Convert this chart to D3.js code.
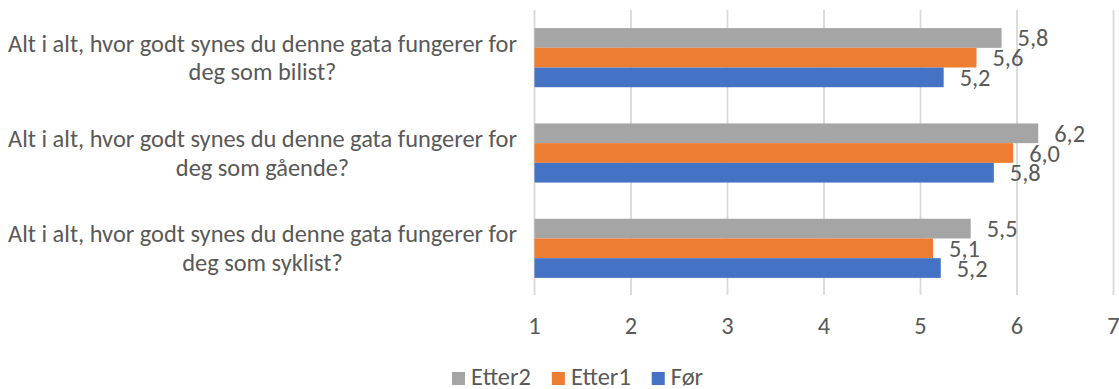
<!DOCTYPE html>
<html>
<head>
<meta charset="utf-8">
<script src="https://cdn.jsdelivr.net/npm/d3@7"></script>
<style>
  html, body { margin: 0; padding: 0; background: #ffffff; }
  svg { display: block; }
  text { font-family: Carlito, Calibri, Lato, "Liberation Sans", sans-serif; fill: #595959; }
</style>
</head>
<body>
<svg id="chart" width="1119" height="389"></svg>
<script>
// Survey questions (one per bar group)
const categories = [
  ["Alt i alt, hvor godt synes du denne gata fungerer for", "deg som bilist?"],
  ["Alt i alt, hvor godt synes du denne gata fungerer for", "deg som gående?"],
  ["Alt i alt, hvor godt synes du denne gata fungerer for", "deg som syklist?"]
];
const categoryKeys = ["bilist", "gående", "syklist"];

// Series, drawn top to bottom inside each group
const seriesNames = ["Etter2", "Etter1", "Før"];
const etter2 = [5.84, 6.22, 5.52];
const etter1 = [5.58, 5.96, 5.13];
const foer   = [5.24, 5.76, 5.21];
const seriesValues = [etter2, etter1, foer];
const seriesColors = ["#A5A5A5", "#ED7D31", "#4472C4"];

// Axis
const axisMin = 1, axisMax = 7;
const tickValues = [1, 2, 3, 4, 5, 6, 7];

const svg = d3.select("#chart");

// Fit the font size so the long question line spans its intended width
const probe = svg.append("text").attr("font-size", 20).text(categories[0][0]);
const probeW = probe.node().getComputedTextLength();
probe.remove();
const fontSize = 20 * 509 / probeW;

const x = d3.scaleLinear().domain([axisMin, axisMax]).range([534.5, 1113.5]);
const y = d3.scaleBand().domain(categoryKeys).range([10, 296])
  .paddingInner(0.38).paddingOuter(0.19);
const ySeries = d3.scaleBand().domain(seriesNames).range([0, y.bandwidth()]);

const fmt = v => d3.format(".1f")(v).replace(".", ",");

// Vertical gridlines
svg.append("g").selectAll("line").data(tickValues).join("line")
  .attr("x1", d => x(d)).attr("x2", d => x(d))
  .attr("y1", 10).attr("y2", 295)
  .attr("stroke", "#D9D9D9").attr("stroke-width", 1.8);

// Tick labels
svg.append("g").selectAll("text").data(tickValues).join("text")
  .attr("x", d => x(d)).attr("y", 334)
  .attr("text-anchor", "middle")
  .attr("font-size", fontSize)
  .text(d => d);

// Bars and value labels
const rows = [];
categoryKeys.forEach((c, i) => {
  seriesNames.forEach((s, j) => {
    rows.push({ cat: c, series: s, value: seriesValues[j][i], color: seriesColors[j] });
  });
});

const groups = svg.append("g");
groups.selectAll("rect").data(rows).join("rect")
  .attr("x", x(axisMin))
  .attr("y", d => y(d.cat) + ySeries(d.series))
  .attr("width", d => x(d.value) - x(axisMin))
  .attr("height", ySeries.bandwidth())
  .attr("fill", d => d.color);

groups.selectAll("text").data(rows).join("text")
  .attr("x", d => x(d.value) + 16)
  .attr("y", d => y(d.cat) + ySeries(d.series) + ySeries.bandwidth() / 2 + 8.5)
  .attr("font-size", fontSize)
  .text(d => fmt(d.value));

// Category labels (two centred lines each)
const catG = svg.append("g");
categoryKeys.forEach((c, i) => {
  const cy = y(c) + y.bandwidth() / 2;
  categories[i].forEach((line, k) => {
    catG.append("text")
      .attr("x", 262.5)
      .attr("y", cy - 6 + k * 28.7)
      .attr("text-anchor", "middle")
      .attr("font-size", fontSize)
      .text(line);
  });
});

// Legend
const legend = svg.append("g");
let lx = 452;
seriesNames.forEach((s, j) => {
  legend.append("rect")
    .attr("x", lx).attr("y", 372)
    .attr("width", 13).attr("height", 13)
    .attr("fill", seriesColors[j]);
  const t = legend.append("text")
    .attr("x", lx + 19).attr("y", 385)
    .attr("font-size", fontSize)
    .text(s);
  lx += 19 + t.node().getComputedTextLength() + 21;
});
</script>
</body>
</html>
